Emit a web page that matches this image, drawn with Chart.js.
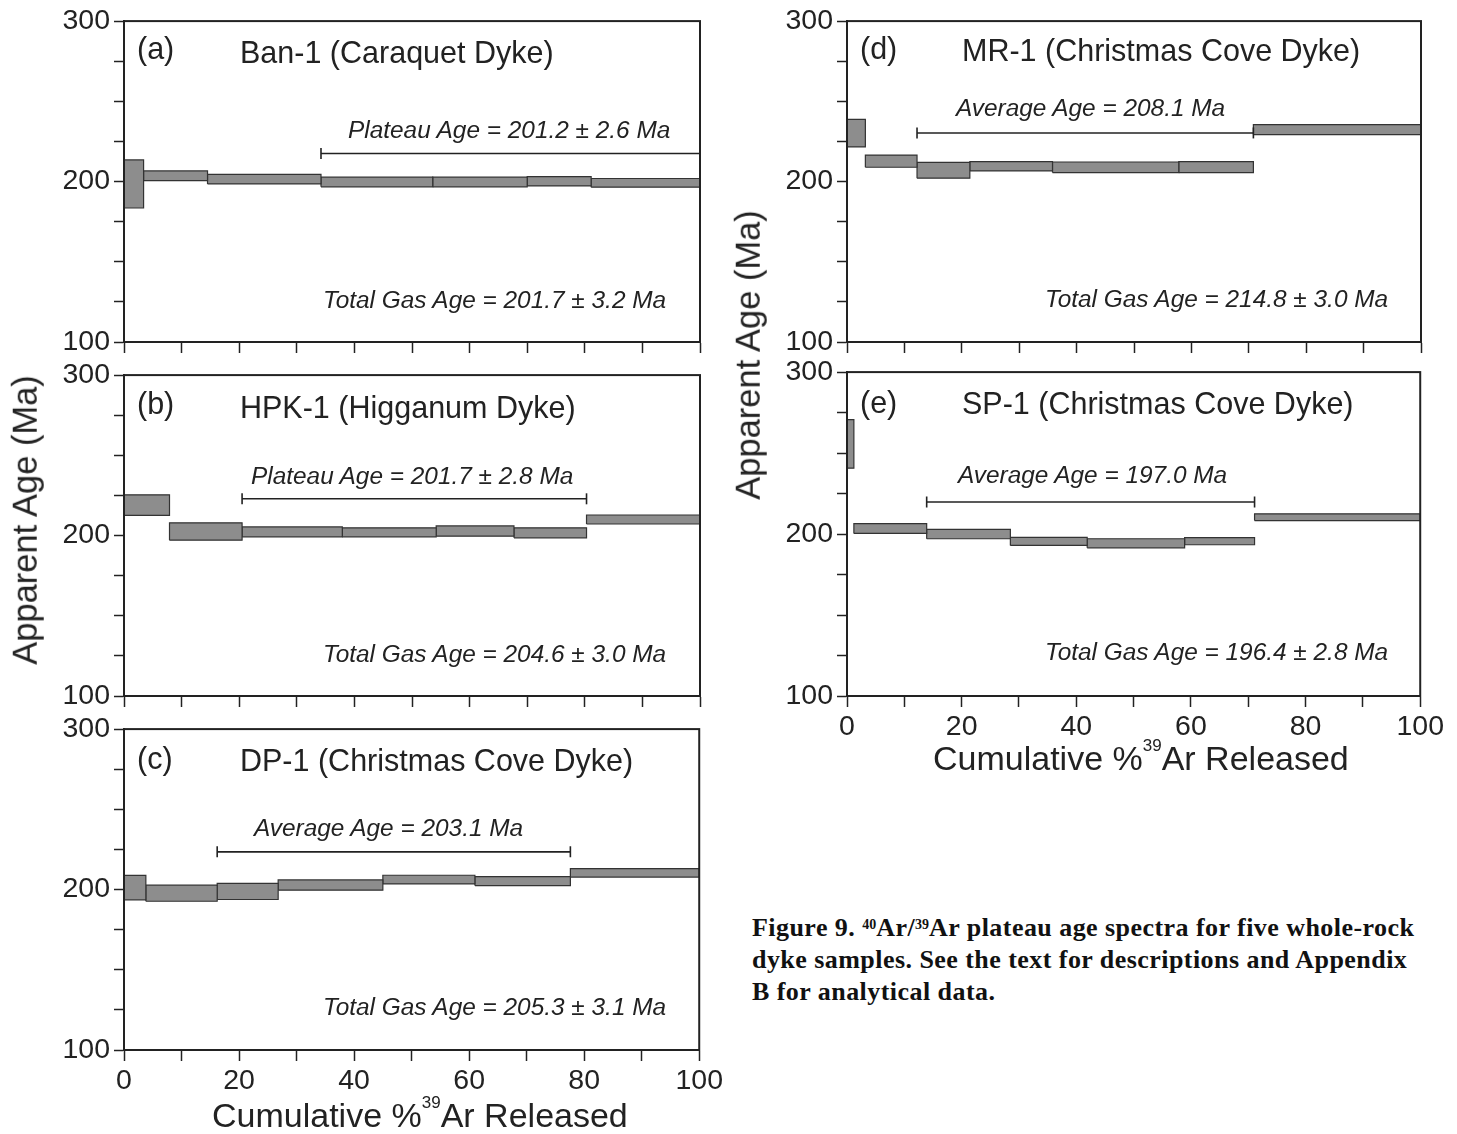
<!DOCTYPE html>
<html><head><meta charset="utf-8">
<script src="https://cdn.jsdelivr.net/npm/chart.js@4/dist/chart.umd.min.js"></script>
<style>
html,body{margin:0;padding:0;background:#fff}
body{width:1457px;height:1134px;position:relative;overflow:hidden;font-family:"Liberation Sans",Arial,sans-serif;color:#222}
canvas{position:absolute}
.t{position:absolute;white-space:nowrap;line-height:1;transform:translateY(-50%)}
.lab{font-size:30.5px}
.ann{font-size:24.4px;font-style:italic}
.axt{font-size:34px}
.axt sup{font-size:17px;vertical-align:top;position:relative;top:-4px}
.rot{position:absolute;white-space:nowrap;line-height:1;font-size:34.5px;transform:translate(-50%,-50%) rotate(-90deg)}
.cap{position:absolute;left:752px;top:912px;font-family:"Liberation Serif","DejaVu Serif",serif;font-weight:bold;font-size:26px;letter-spacing:0.45px;line-height:32px;color:#111;white-space:nowrap}
.cap sup{font-size:14px;vertical-align:top;position:relative;top:-3px;letter-spacing:0}
</style></head>
<body>
<canvas id="cA" width="696" height="364" style="left:30px;top:0px"></canvas>
<canvas id="cB" width="696" height="364" style="left:30px;top:354px"></canvas>
<canvas id="cC" width="696" height="390" style="left:30px;top:708px"></canvas>
<canvas id="cD" width="694" height="364" style="left:753px;top:0px"></canvas>
<canvas id="cE" width="694" height="393" style="left:753px;top:351px"></canvas>

<div class="t lab" style="left:137px;top:48px">(a)</div>
<div class="t lab" style="left:240px;top:52px">Ban-1 (Caraquet Dyke)</div>
<div class="t ann" style="left:348px;top:130px">Plateau Age = 201.2 ± 2.6 Ma</div>
<div class="t ann" style="left:323px;top:300px">Total Gas Age = 201.7 ± 3.2 Ma</div>

<div class="t lab" style="left:137px;top:403px">(b)</div>
<div class="t lab" style="left:240px;top:407px">HPK-1 (Higganum Dyke)</div>
<div class="t ann" style="left:251px;top:476px">Plateau Age = 201.7 ± 2.8 Ma</div>
<div class="t ann" style="left:323px;top:654px">Total Gas Age = 204.6 ± 3.0 Ma</div>

<div class="t lab" style="left:137px;top:758px">(c)</div>
<div class="t lab" style="left:240px;top:760px">DP-1 (Christmas Cove Dyke)</div>
<div class="t ann" style="left:254px;top:828px">Average Age = 203.1 Ma</div>
<div class="t ann" style="left:323px;top:1007px">Total Gas Age = 205.3 ± 3.1 Ma</div>

<div class="t lab" style="left:860px;top:48px">(d)</div>
<div class="t lab" style="left:962px;top:50px">MR-1 (Christmas Cove Dyke)</div>
<div class="t ann" style="left:956px;top:108px">Average Age = 208.1 Ma</div>
<div class="t ann" style="left:1045px;top:299px">Total Gas Age = 214.8 ± 3.0 Ma</div>

<div class="t lab" style="left:860px;top:402px">(e)</div>
<div class="t lab" style="left:962px;top:403px">SP-1 (Christmas Cove Dyke)</div>
<div class="t ann" style="left:958px;top:475px">Average Age = 197.0 Ma</div>
<div class="t ann" style="left:1045px;top:652px">Total Gas Age = 196.4 ± 2.8 Ma</div>

<div class="rot" style="left:25px;top:520px">Apparent Age (Ma)</div>
<div class="rot" style="left:748px;top:355px">Apparent Age (Ma)</div>
<div class="t axt" style="left:212px;top:1115px">Cumulative %<sup>39</sup>Ar Released</div>
<div class="t axt" style="left:933px;top:758px">Cumulative %<sup>39</sup>Ar Released</div>

<div class="cap">Figure 9. <sup>40</sup>Ar/<sup>39</sup>Ar plateau age spectra for five whole-rock<br>dyke samples. See the text for descriptions and Appendix<br>B for analytical data.</div>

<script>
// ---- data ----
const Y_TICK_LABELS = [100, 200, 300];
const X_TICK_LABELS = [0, 20, 40, 60, 80, 100];

// (a) Ban-1
const EDGES_A = [0, 3.4, 14.5, 34.2, 53.6, 70.0, 81.1, 100];
const AGES_A  = [198.5, 203.6, 201.5, 199.7, 199.7, 200.2, 199.2];
const ERRS_A  = [15.0, 3.0, 3.0, 3.0, 3.0, 2.9, 2.7];
const BAR_A   = [34.2, 100, 217.5];

// (b) HPK-1
const EDGES_B = [0, 7.9, 20.5, 37.9, 54.2, 67.7, 80.3, 100];
const AGES_B  = [219.0, 202.5, 202.3, 202.0, 202.8, 201.7, 210.0];
const ERRS_B  = [6.4, 5.4, 3.1, 2.8, 3.2, 3.1, 2.8];
const BAR_B   = [20.5, 80.3, 222.9];

// (c) DP-1
const EDGES_C = [0, 3.8, 16.2, 26.8, 45.0, 61.0, 77.6, 100];
const AGES_C  = [201.2, 197.7, 198.8, 202.8, 206.2, 205.3, 210.4];
const ERRS_C  = [7.6, 5.0, 5.0, 3.2, 2.7, 2.8, 2.6];
const BAR_C   = [16.2, 77.6, 223.5];

// (d) MR-1
const EDGES_D = [0, 3.2, 12.2, 21.4, 35.8, 57.8, 70.8, 100];
const AGES_D  = [230.2, 212.7, 207.0, 209.5, 208.9, 209.0, 232.4];
const ERRS_D  = [8.6, 3.8, 4.9, 2.9, 3.3, 3.4, 3.1];
const BAR_D   = [12.2, 70.8, 230.3];

// (e) SP-1
const EDGES_E = [0, 1.2, 13.9, 28.5, 41.9, 58.9, 71.1, 100];
const AGES_E  = [255.7, 203.4, 200.0, 195.5, 194.3, 195.6, 210.4];
const ERRS_E  = [15.0, 3.0, 2.9, 2.5, 2.8, 2.2, 2.1];
const BAR_E   = [13.9, 71.1, 219.8];

// ---- styling / building ----
const INK = '#222';
const TICK_FONT = {family: '"Liberation Sans", Arial, sans-serif', size: 28.5};
const framePlugin = {
  id: 'frame',
  afterDraw(chart) {
    const {ctx, chartArea: a} = chart;
    ctx.save();
    ctx.strokeStyle = INK; ctx.lineWidth = 2;
    ctx.strokeRect(a.left, a.top, a.right - a.left, a.bottom - a.top);
    ctx.restore();
  }
};

function buildDatasets(edges, ages, errs, bar) {
  const ds = [];
  ds.push({
    data: [{x: bar[0], y: bar[2]}, {x: bar[1], y: bar[2]}],
    borderColor: INK, borderWidth: 1.6, fill: false,
    pointStyle: 'line', pointRotation: 90, pointRadius: 5.5,
    pointBorderWidth: 1.6, pointBorderColor: INK, pointBackgroundColor: INK
  });
  for (let i = 0; i < ages.length; i++) {
    const lo = ages[i] - errs[i], hi = ages[i] + errs[i];
    const x0 = edges[i], x1 = edges[i + 1];
    ds.push({
      data: [{x: x0, y: lo}, {x: x1, y: lo}, {x: x1, y: hi}, {x: x0, y: hi}, {x: x0, y: lo}],
      borderColor: '#333', borderWidth: 1.2,
      backgroundColor: '#8d8d8d', fill: 'shape',
      pointRadius: 0, tension: 0
    });
  }
  return ds;
}

function makePanel(id, edges, ages, errs, bar, showX) {
  new Chart(document.getElementById(id), {
    type: 'line',
    data: {datasets: buildDatasets(edges, ages, errs, bar)},
    plugins: [framePlugin],
    options: {
      responsive: false, animation: false, events: [],
      layout: {padding: {top: 20, right: 26, left: 0, bottom: 0}},
      plugins: {legend: {display: false}, tooltip: {enabled: false}},
      scales: {
        x: {
          type: 'linear', min: 0, max: 100,
          afterFit: s => { s.height = showX ? 48 : 22; },
          border: {display: true, color: INK, width: 2},
          grid: {drawOnChartArea: false, drawTicks: true, tickLength: 11, tickWidth: 1.5, tickColor: INK},
          ticks: {
            stepSize: 10, autoSkip: false, maxRotation: 0, padding: 3, color: INK,
            font: TICK_FONT,
            callback: v => (showX && X_TICK_LABELS.includes(v)) ? String(v) : ''
          }
        },
        y: {
          type: 'linear', min: 100, max: 300,
          afterFit: s => { s.width = 94; },
          border: {display: true, color: INK, width: 2},
          grid: {drawOnChartArea: false, drawTicks: true, tickLength: 10, tickWidth: 1.5, tickColor: INK},
          ticks: {
            stepSize: 25, autoSkip: false, padding: 4, color: INK,
            font: TICK_FONT,
            callback: v => Y_TICK_LABELS.includes(v) ? String(v) : ''
          }
        }
      }
    }
  });
}

makePanel('cA', EDGES_A, AGES_A, ERRS_A, BAR_A, false);
makePanel('cB', EDGES_B, AGES_B, ERRS_B, BAR_B, false);
makePanel('cC', EDGES_C, AGES_C, ERRS_C, BAR_C, true);
makePanel('cD', EDGES_D, AGES_D, ERRS_D, BAR_D, false);
makePanel('cE', EDGES_E, AGES_E, ERRS_E, BAR_E, true);
</script>
</body></html>
